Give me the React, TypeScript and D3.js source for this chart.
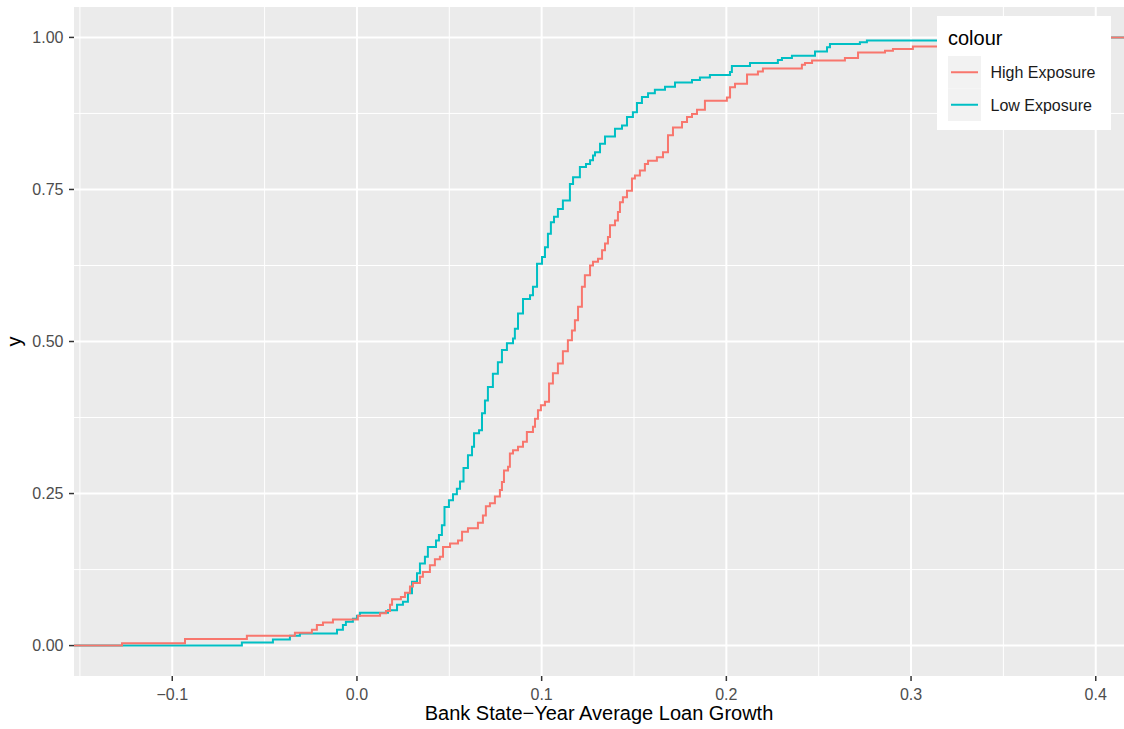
import React from "react";
import * as d3 from "d3";

// ECDF step locations (x) and cumulative share after the step (y)
const highX = [-0.1272, -0.0931, -0.0596, -0.0336, -0.0244, -0.0217, -0.0184, -0.0130, 0.0005, 0.0125, 0.0157, 0.0179, 0.0190, 0.0238, 0.0260, 0.0287, 0.0303, 0.0341, 0.0357, 0.0395, 0.0422, 0.0449, 0.0466, 0.0504, 0.0547, 0.0569, 0.0601, 0.0655, 0.0682, 0.0698, 0.0720, 0.0747, 0.0774, 0.0785, 0.0796, 0.0818, 0.0828, 0.0845, 0.0872, 0.0899, 0.0920, 0.0953, 0.0964, 0.0980, 0.0996, 0.1018, 0.1040, 0.1061, 0.1088, 0.1115, 0.1142, 0.1164, 0.1180, 0.1197, 0.1218, 0.1234, 0.1262, 0.1278, 0.1305, 0.1327, 0.1343, 0.1359, 0.1370, 0.1397, 0.1413, 0.1424, 0.1440, 0.1462, 0.1489, 0.1505, 0.1532, 0.1559, 0.1576, 0.1624, 0.1657, 0.1684, 0.1711, 0.1760, 0.1787, 0.1814, 0.1841, 0.1884, 0.2003, 0.2020, 0.2047, 0.2112, 0.2171, 0.2198, 0.2409, 0.2426, 0.2464, 0.2642, 0.2713, 0.2859, 0.2902, 0.3010, 0.3481, 0.3893];
const highY = [0.004, 0.011, 0.016, 0.021, 0.026, 0.034, 0.038, 0.043, 0.049, 0.053, 0.057, 0.067, 0.076, 0.080, 0.087, 0.097, 0.103, 0.113, 0.121, 0.132, 0.142, 0.146, 0.162, 0.168, 0.173, 0.187, 0.193, 0.202, 0.214, 0.229, 0.234, 0.245, 0.256, 0.269, 0.288, 0.294, 0.316, 0.321, 0.327, 0.335, 0.351, 0.360, 0.373, 0.387, 0.395, 0.401, 0.431, 0.448, 0.464, 0.484, 0.502, 0.518, 0.535, 0.557, 0.590, 0.609, 0.625, 0.631, 0.636, 0.650, 0.661, 0.672, 0.691, 0.699, 0.713, 0.729, 0.737, 0.748, 0.768, 0.773, 0.781, 0.792, 0.797, 0.803, 0.811, 0.839, 0.852, 0.861, 0.869, 0.874, 0.881, 0.896, 0.901, 0.918, 0.924, 0.939, 0.944, 0.949, 0.955, 0.958, 0.962, 0.966, 0.975, 0.978, 0.981, 0.985, 0.992, 1.0];

const lowX = [-0.0623, -0.0455, -0.0363, -0.0309, -0.0108, -0.0076, -0.0060, -0.0022, 0.0000, 0.0016, 0.0168, 0.0217, 0.0249, 0.0276, 0.0298, 0.0325, 0.0341, 0.0368, 0.0384, 0.0428, 0.0444, 0.0460, 0.0474, 0.0498, 0.0520, 0.0541, 0.0558, 0.0577, 0.0601, 0.0623, 0.0634, 0.0661, 0.0677, 0.0693, 0.0709, 0.0736, 0.0763, 0.0785, 0.0812, 0.0845, 0.0855, 0.0872, 0.0899, 0.0937, 0.0953, 0.0975, 0.1002, 0.1018, 0.1034, 0.1050, 0.1067, 0.1088, 0.1115, 0.1153, 0.1170, 0.1207, 0.1240, 0.1262, 0.1278, 0.1289, 0.1316, 0.1343, 0.1397, 0.1435, 0.1462, 0.1494, 0.1516, 0.1543, 0.1576, 0.1613, 0.1668, 0.1722, 0.1814, 0.1857, 0.1911, 0.2020, 0.2030, 0.2128, 0.2279, 0.2301, 0.2355, 0.2480, 0.2545, 0.2561, 0.2723, 0.2761, 0.3265];
const lowY = [0.005, 0.010, 0.016, 0.020, 0.026, 0.034, 0.039, 0.044, 0.049, 0.054, 0.058, 0.067, 0.072, 0.086, 0.105, 0.119, 0.135, 0.146, 0.162, 0.173, 0.182, 0.198, 0.228, 0.239, 0.249, 0.258, 0.270, 0.292, 0.313, 0.327, 0.349, 0.354, 0.382, 0.403, 0.425, 0.447, 0.466, 0.486, 0.497, 0.505, 0.521, 0.546, 0.570, 0.576, 0.590, 0.628, 0.639, 0.655, 0.677, 0.696, 0.705, 0.718, 0.732, 0.759, 0.770, 0.787, 0.792, 0.798, 0.806, 0.811, 0.825, 0.837, 0.850, 0.855, 0.869, 0.877, 0.892, 0.902, 0.908, 0.914, 0.919, 0.926, 0.930, 0.934, 0.938, 0.943, 0.953, 0.958, 0.963, 0.966, 0.970, 0.977, 0.984, 0.989, 0.992, 0.995, 1.0];

const seriesNames = ["High Exposure", "Low Exposure"];
const seriesColors = ["#F8766D", "#00BFC4"];
const xTicks = [-0.1, 0.0, 0.1, 0.2, 0.3, 0.4];
const xMinor = [-0.15, -0.05, 0.05, 0.15, 0.25, 0.35];
const yTicks = [0, 0.25, 0.5, 0.75, 1.0];
const yMinor = [0.125, 0.375, 0.625, 0.875];

const W = 1124;
const H = 729;
const P = { left: 74, right: 1124, top: 7, bottom: 676 };
const FONT = "'Liberation Sans', Arial, Helvetica, sans-serif";

const fmtX = (v: number) => {
  const s = d3.format(".1f")(Math.abs(v));
  return v < 0 ? "\u2212" + s : s;
};
const fmtY = d3.format(".2f");

export default function App() {
  const x = d3.scaleLinear().domain([-0.1532, 0.4153]).range([P.left, P.right]);
  const y = d3.scaleLinear().domain([-0.05, 1.05]).range([P.bottom, P.top]);
  const [xLo, xHi] = x.domain();

  const makePath = (xs: number[], ys: number[]) => {
    const pts: [number, number][] = [[xLo, 0], ...xs.map((v, i) => [v, ys[i]] as [number, number]), [xHi, 1]];
    return d3
      .line<[number, number]>()
      .x((d) => x(d[0]))
      .y((d) => y(d[1]))
      .curve(d3.curveStepAfter)(pts) as string;
  };

  const series = [
    { name: seriesNames[1], color: seriesColors[1], d: makePath(lowX, lowY) },
    { name: seriesNames[0], color: seriesColors[0], d: makePath(highX, highY) },
  ];

  const legendX = 937;
  const legendY = 16;

  return (
    <svg width={W} height={H} style={{ position: "absolute", left: 0, top: 0, fontFamily: FONT }}>
      <rect x={0} y={0} width={W} height={H} fill="#ffffff" />
      <defs>
        <clipPath id="panel">
          <rect x={P.left} y={P.top} width={P.right - P.left} height={P.bottom - P.top} />
        </clipPath>
      </defs>
      <rect x={P.left} y={P.top} width={P.right - P.left} height={P.bottom - P.top} fill="#EBEBEB" />
      <g clipPath="url(#panel)">
        {xMinor.map((t) => (
          <line key={"xm" + t} x1={x(t)} x2={x(t)} y1={P.top} y2={P.bottom} stroke="#fff" strokeWidth={1} />
        ))}
        {yMinor.map((t) => (
          <line key={"ym" + t} x1={P.left} x2={P.right} y1={y(t)} y2={y(t)} stroke="#fff" strokeWidth={1} />
        ))}
        {xTicks.map((t) => (
          <line key={"xM" + t} x1={x(t)} x2={x(t)} y1={P.top} y2={P.bottom} stroke="#fff" strokeWidth={2} />
        ))}
        {yTicks.map((t) => (
          <line key={"yM" + t} x1={P.left} x2={P.right} y1={y(t)} y2={y(t)} stroke="#fff" strokeWidth={2} />
        ))}
        {series.map((s) => (
          <path key={s.name} d={s.d} fill="none" stroke={s.color} strokeWidth={2} />
        ))}
      </g>
      {/* y axis */}
      {yTicks.map((t) => (
        <g key={"yt" + t}>
          <line x1={P.left - 5} x2={P.left} y1={y(t)} y2={y(t)} stroke="#333333" strokeWidth={1.5} />
          <text x={P.left - 10.5} y={y(t)} dy="0.36em" textAnchor="end" fontSize={16} fill="#4D4D4D">
            {fmtY(t)}
          </text>
        </g>
      ))}
      {/* x axis */}
      {xTicks.map((t) => (
        <g key={"xt" + t}>
          <line x1={x(t)} x2={x(t)} y1={P.bottom} y2={P.bottom + 5} stroke="#333333" strokeWidth={1.5} />
          <text x={x(t)} y={P.bottom + 24} textAnchor="middle" fontSize={16} fill="#4D4D4D">
            {fmtX(t)}
          </text>
        </g>
      ))}
      <text x={(P.left + P.right) / 2} y={720} textAnchor="middle" fontSize={20} fill="#000">
        Bank State{"\u2212"}Year Average Loan Growth
      </text>
      <text transform={`translate(21, ${(P.top + P.bottom) / 2}) rotate(-90)`} textAnchor="middle" fontSize={20} fill="#000">
        y
      </text>
      {/* legend */}
      <g transform={`translate(${legendX}, ${legendY})`}>
        <rect x={0} y={0} width={174} height={114} fill="#ffffff" />
        <text x={11} y={28.5} fontSize={20} fill="#000">
          colour
        </text>
        {seriesNames.map((n, i) => (
          <g key={n} transform={`translate(11, ${40 + i * 32.5})`}>
            <rect x={0} y={0} width={33} height={32.5} fill="#F2F2F2" />
            <line x1={3} x2={30} y1={16.25} y2={16.25} stroke={seriesColors[i]} strokeWidth={2} />
            <text x={42.5} y={16.5} dy="0.36em" fontSize={16} fill="#1a1a1a">
              {n}
            </text>
          </g>
        ))}
      </g>
    </svg>
  );
}
